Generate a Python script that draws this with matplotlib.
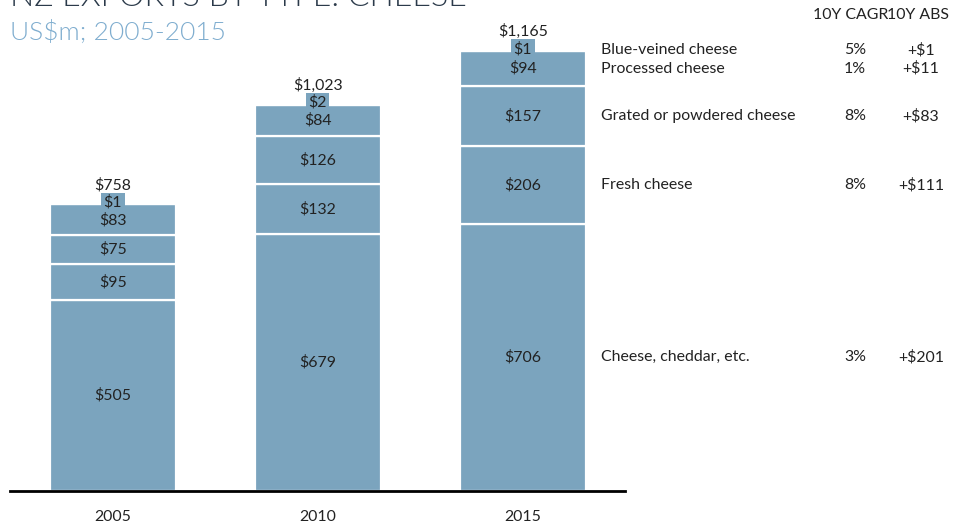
import matplotlib.pyplot as plt
import matplotlib.transforms as mtransforms

plt.rcParams["font.family"] = ["Lato", "DejaVu Sans"]

years = ["2005", "2010", "2015"]
categories = ["Cheese, cheddar, etc.", "Fresh cheese", "Grated or powdered cheese",
              "Processed cheese", "Blue-veined cheese"]
# values per category, one entry per year (US$m)
cheddar = [505, 679, 706]
fresh = [95, 132, 206]
grated = [75, 126, 157]
processed = [83, 84, 94]
blue = [1, 2, 1]
totals = [758, 1023, 1165]
cagr = ["3%", "8%", "8%", "1%", "5%"]
abs_change = ["+$201", "+$111", "+$83", "+$11", "+$1"]

series = [cheddar, fresh, grated, processed, blue]
bar_color = "#7BA4BE"
text_color = "#222222"
fs = 11.4

fig = plt.figure(figsize=(9.56, 5.25), dpi=100)
W, H = 956, 525
ax = fig.add_axes([10 / W, 34 / H, 615 / W, 481 / H])

x = list(range(len(years)))
bottoms = [0] * len(years)
for vals in series:
    ax.bar(x, vals, bottom=bottoms, width=0.615, color=bar_color,
           edgecolor="white", linewidth=1.6)
    for i, v in enumerate(vals):
        yc = bottoms[i] + v / 2
        if v < 5:
            ax.text(x[i], yc + 4, f"${v}", ha="center", va="center", fontsize=fs,
                    color=text_color,
                    bbox=dict(boxstyle="square,pad=0.15", facecolor=bar_color, edgecolor="none"))
        else:
            ax.text(x[i], yc, f"${v}", ha="center", va="center", fontsize=fs, color=text_color)
    bottoms = [b + v for b, v in zip(bottoms, vals)]

for i, t in enumerate(totals):
    ax.annotate(f"${t:,}", (x[i], t), xytext=(0, 13.5), textcoords="offset points",
                ha="center", va="center", fontsize=fs, color=text_color)

ax.set_xlim(-0.502, 2.498)
ax.set_ylim(0, 1165 * 481 / 441)
ax.set_xticks(x)
ax.set_xticklabels(years, fontsize=fs, color=text_color)
ax.tick_params(axis="x", length=0, pad=14)
ax.set_yticks([])
for s in ["top", "left", "right"]:
    ax.spines[s].set_visible(False)
ax.spines["bottom"].set_linewidth(2)
ax.spines["bottom"].set_color("black")

# right-hand legend with growth columns, aligned with the 2015 segments
trans = mtransforms.blended_transform_factory(fig.transFigure, ax.transData)
last = [vals[-1] for vals in series]
b = 0
for name, v, c, a in zip(categories, last, cagr, abs_change):
    yc = b + v / 2
    if v < 5:
        yc += 1
    ax.text(601 / W, yc, name, transform=trans, ha="left", va="center",
            fontsize=fs, color=text_color, clip_on=False)
    ax.text(855 / W, yc, c, transform=trans, ha="center", va="center",
            fontsize=fs, color=text_color, clip_on=False)
    ax.text(921 / W, yc, a, transform=trans, ha="center", va="center",
            fontsize=fs, color=text_color, clip_on=False)
    b += v

fig.text(851 / W, 1 - 15 / H, "10Y CAGR", ha="center", va="center", fontsize=fs, color=text_color)
fig.text(918 / W, 1 - 15 / H, "10Y ABS", ha="center", va="center", fontsize=fs, color=text_color)

fig.text(10 / W, 1 - 6 / H, "NZ EXPORTS BY TYPE: CHEESE", ha="left", va="baseline",
         fontsize=23, fontweight=300, color="#2B3A4A")
fig.text(10 / W, 1 - 33 / H, "US$m; 2005-2015", ha="left", va="center",
         fontsize=19, fontweight=300, color="#7FADCF")

fig.savefig("out.png", dpi=100)
